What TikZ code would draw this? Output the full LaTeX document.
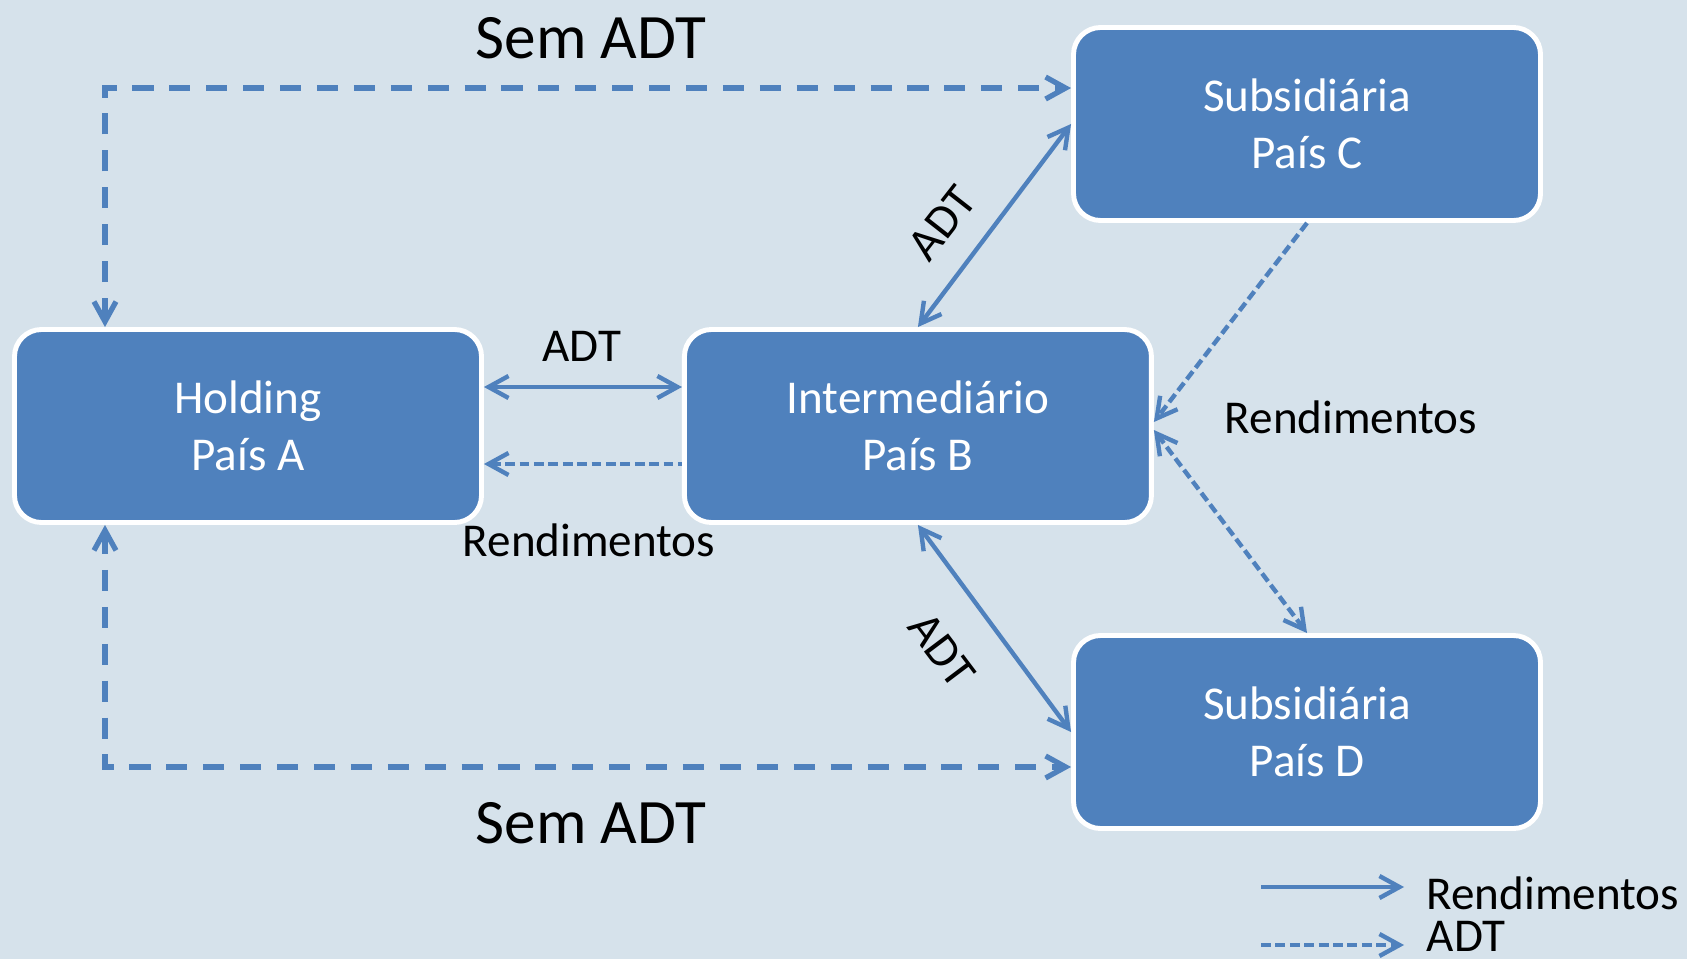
\documentclass[tikz,border=0pt]{standalone}
\usepackage{fontspec}
\setmainfont{Carlito}
\usepackage{tikz}
\usetikzlibrary{positioning, arrows.meta}

\definecolor{caixa}{RGB}{79,129,189}
\definecolor{fundo}{RGB}{214,226,235}

\begin{document}
\begin{tikzpicture}[node distance=1.98cm,
    font=\fontsize{13.4}{16.1}\selectfont,
    >={Straight Barb[length=2mm, width=2.2mm]},
    pais/.style={draw=white, line width=1.4pt, fill=caixa, rounded corners=0.27cm,
        minimum width=4.67cm, minimum height=1.93cm, text=white, align=center},
    fluxo/.style={draw=caixa, line width=1.25pt},
    curto/.style={dash pattern=on 2.8pt off 1.3pt},
    semadt/.style={line width=1.5pt, dash pattern=on 6pt off 4.5pt},
    grande/.style={font=\fontsize{18}{21.6}\selectfont}]
            \useasboundingbox[fill=fundo] (0,0) rectangle (16.87,-9.59);

            % Nodes
            \node[pais] (A) at (2.48,-4.26) {Holding\\País A};
            \node[pais, right=of A] (B) {Intermediário\\País B};
            \node[pais] (C) at (13.07,-1.24) {Subsidiária\\País C};
            \node[pais] (D) at (13.07,-7.32) {Subsidiária\\País D};

            % Labels
            \node[grande] (semtop) at (5.91,-0.38) {Sem ADT};
            \node[grande] (sembot) at (5.91,-8.23) {Sem ADT};
            \node (adtAB) at (5.82,-3.46) {ADT};
            \node (rendAB) at (5.89,-5.40) {Rendimentos};
            \node[rotate=52, inner sep=1pt] (adtBC) at (9.42,-2.23) {ADT};
            \node[rotate=-53, inner sep=1pt] (adtBD) at (9.42,-6.50) {ADT};
            \node (rendR) at (13.51,-4.17) {Rendimentos};

            % Edges
            \draw[fluxo, <->] ([yshift=3.9mm]A.east) -- ([yshift=3.9mm]B.west);
            \draw[fluxo, curto, <-] ([yshift=-3.8mm]A.east) -- ([yshift=-3.8mm]B.west);
            \draw[fluxo, <->] (B.north) -- (C.west);
            \draw[fluxo, <->] (B.south) -- (D.west);
            \draw[fluxo, curto, ->] (C.south) -- ([yshift=0.4mm]B.east);
            \draw[fluxo, curto, <->] ([yshift=-0.4mm]B.east) -- (D.north);
            \draw[fluxo, semadt, <->] ([xshift=-1.43cm]A.north) |- ([yshift=-0.63cm]C.north west);
            \draw[fluxo, semadt, <->] ([xshift=-1.43cm]A.south) |- ([yshift=0.64cm]D.south west);

            % Legend
            \coordinate (legR) at (12.61,-8.87);
            \coordinate (legA) at (12.61,-9.45);
            \node[anchor=west, inner sep=0pt] (legRtxt) at (14.26,-8.93) {Rendimentos};
            \node[anchor=west, inner sep=0pt] (legAtxt) at (14.26,-9.36) {ADT};
            \draw[fluxo, ->] (legR) -- ([xshift=-2.2mm]legR -| legRtxt.west);
            \draw[fluxo, curto, ->] (legA) -- ([xshift=-2.2mm]legA -| legAtxt.west);

        \end{tikzpicture}
\end{document}
